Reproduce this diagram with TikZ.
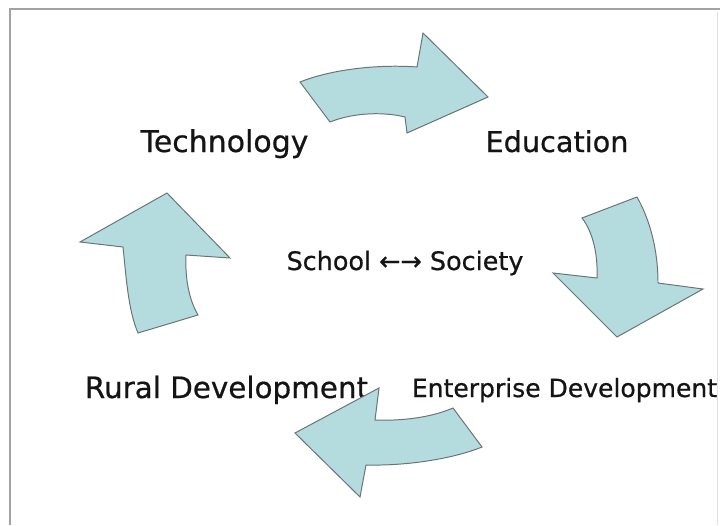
\documentclass[tikz,border=0pt]{standalone}
\usepackage{fontspec}
\setmainfont[FakeBold=0.6]{DejaVu Sans}
\definecolor{cyclefill}{HTML}{B4DCDF}
\definecolor{cycleline}{HTML}{687475}
\definecolor{frame}{HTML}{A3A3A3}

\begin{document}
\begin{tikzpicture}[
  x=0.025cm, y=-0.025cm,
  bigarrow/.style={fill=cyclefill, draw=cycleline, line width=0.7pt, line join=miter},
  lbl/.style={anchor=base, inner sep=0pt, text=black!92},
  big/.style={lbl, font=\fontsize{21.3}{25}\selectfont},
  mid/.style={lbl, font=\fontsize{20.4}{24}\selectfont},
  small/.style={lbl, font=\fontsize{17.8}{21}\selectfont}
]
\useasboundingbox (0,0) rectangle (720,525);

% ================= frame =================
\draw[frame, line width=1.4pt] (10,525) -- (10,9) -- (720,9);
\draw[black!12, line width=0.6pt] (717,12) -- (717,525);

% ================= labels =================
\node[big] (tech) at (224.5,152) {Technology};
\node[mid] (edu)  at (557,152)   {Education};
\node[lbl, font=\fontsize{20.9}{24}\selectfont] (rural) at (226.5,398) {Rural Development};
\node[small] (ent) at (564.5,397) {Enterprise Development};
\node[lbl, font=\fontsize{18.1}{21}\selectfont] (school) at (405,270) {School ←→ Society};

% ================= cycle arrows =================
% top: technology -> education
\draw[bigarrow] (300,82) .. controls (330,70) and (375,64) .. (417,67)
  -- (423,33) -- (488,97) -- (407,133) -- (405,117)
  .. controls (385,112) and (355,112) .. (330,122) -- cycle;

% right: education -> enterprise
\draw[bigarrow] (582,218) -- (637,197)
  .. controls (650,220) and (658,250) .. (658,283)
  -- (703,289) -- (617,337) -- (553,273) -- (597,278)
  .. controls (598,255) and (593,232) .. (582,218) -- cycle;

% bottom: enterprise -> rural
\draw[bigarrow] (453,408) -- (482,447)
  .. controls (455,458) and (410,466) .. (366,465)
  -- (360,497) -- (295,433) -- (379,388) -- (375,420)
  .. controls (400,421) and (430,418) .. (453,408) -- cycle;

% left: rural -> technology
\draw[bigarrow] (138,333) -- (198,315)
  .. controls (188,298) and (185,275) .. (186,255)
  -- (230,258) -- (167,193) -- (80,242) -- (123,247)
  .. controls (126,275) and (128,310) .. (138,333) -- cycle;

\end{tikzpicture}
\end{document}
